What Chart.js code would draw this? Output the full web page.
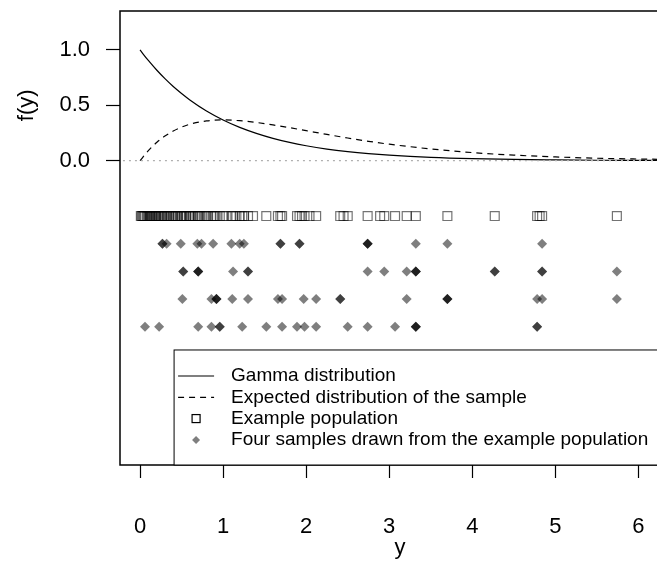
<!DOCTYPE html>
<html>
<head>
<meta charset="utf-8">
<script src="https://cdn.jsdelivr.net/npm/chart.js@4.4.1/dist/chart.umd.min.js"></script>
<style>
html, body { margin: 0; padding: 0; background: #fff; overflow: hidden; }
#wrap { width: 700px; height: 563px; }
</style>
</head>
<body>
<div id="wrap"><canvas id="chart" width="700" height="563"></canvas></div>
<script>
// curves
const curveX    = [0, 0.1, 0.2, 0.3, 0.4, 0.5, 0.6, 0.8, 1.0, 1.2, 1.4, 1.6, 1.8, 2.0, 2.25, 2.5, 2.75, 3.0, 3.5, 4.0, 4.5, 5.0, 5.5, 6.0, 6.5];
const gammaY    = [1.000, 0.905, 0.819, 0.741, 0.670, 0.607, 0.549, 0.449, 0.368, 0.301, 0.247, 0.202, 0.165, 0.135, 0.105, 0.082, 0.064, 0.050, 0.030, 0.018, 0.011, 0.007, 0.004, 0.0025, 0.0015];
const expectedY = [0.000, 0.090, 0.164, 0.222, 0.268, 0.303, 0.329, 0.359, 0.368, 0.361, 0.345, 0.323, 0.298, 0.271, 0.237, 0.205, 0.175, 0.149, 0.106, 0.073, 0.050, 0.034, 0.022, 0.015, 0.010];

// example population (squares) and the four samples (diamonds)
const population = [0.01, 0.02, 0.03, 0.04, 0.05, 0.06, 0.08, 0.09, 0.10, 0.11, 0.12, 0.13, 0.14, 0.15, 0.17,
  0.18, 0.19, 0.20, 0.22, 0.23, 0.25, 0.26, 0.27, 0.29, 0.30, 0.32, 0.33, 0.35, 0.37, 0.38, 0.40, 0.42, 0.43,
  0.45, 0.46, 0.49, 0.50, 0.51, 0.53, 0.55, 0.56, 0.59, 0.60, 0.62, 0.64, 0.66, 0.69, 0.70, 0.72, 0.74, 0.78,
  0.80, 0.82, 0.86, 0.88, 0.90, 0.92, 0.96, 1.00, 1.04, 1.10, 1.12, 1.16, 1.20, 1.23, 1.25, 1.30, 1.36, 1.52,
  1.66, 1.69, 1.71, 1.89, 1.92, 1.95, 1.98, 2.04, 2.12, 2.41, 2.45, 2.50, 2.74, 2.89, 2.94, 3.07, 3.21, 3.32,
  3.70, 4.27, 4.78, 4.81, 4.84, 5.74];
const sample1 = [0.27, 0.27, 0.32, 0.49, 0.69, 0.74, 0.88, 1.10, 1.20, 1.25, 1.69, 1.69, 1.92, 1.92, 2.74, 2.74, 2.74, 3.32, 3.70, 4.84];
const sample2 = [0.52, 0.52, 0.70, 0.70, 0.70, 1.12, 1.30, 1.30, 2.74, 2.94, 3.21, 3.32, 3.32, 3.32, 4.27, 4.27, 4.84, 4.84, 5.74];
const sample3 = [0.51, 0.86, 0.92, 0.92, 0.92, 1.11, 1.30, 1.66, 1.71, 1.97, 2.12, 2.41, 2.41, 3.21, 3.70, 3.70, 3.70, 4.78, 4.84, 5.74];
const sample4 = [0.06, 0.23, 0.70, 0.86, 0.96, 0.96, 1.23, 1.52, 1.71, 1.89, 1.98, 2.12, 2.50, 2.74, 3.07, 3.32, 3.32, 3.32, 4.78, 4.78];

const popLevel = -0.5;
const sampleLevels = [-0.75, -1.0, -1.25, -1.5];
const xTicks = [0, 1, 2, 3, 4, 5, 6];
const yTicks = [0, 0.5, 1];
const legendLabels = ['Gamma distribution', 'Expected distribution of the sample',
  'Example population', 'Four samples drawn from the example population'];

const FONT = '"Liberation Sans", Arial, sans-serif';
const diamondFill = 'rgba(0,0,0,0.5)';

function pts(xs, ys) { return xs.map((x, i) => ({ x: x, y: ys[i] })); }
function row(xs, level) { return xs.map(x => ({ x: x, y: level })); }

const sampleSets = [sample1, sample2, sample3, sample4].map((s, i) => ({
  type: 'scatter',
  data: row(s, sampleLevels[i]),
  pointStyle: 'rectRot',
  pointRadius: 5,
  pointBorderWidth: 0,
  pointBackgroundColor: diamondFill,
  pointBorderColor: 'rgba(0,0,0,0)',
  showLine: false
}));

// box round the plot, inset legend, rotated y title
const extras = {
  id: 'extras',
  afterDraw(chart) {
    const ctx = chart.ctx, a = chart.chartArea;
    const xs = chart.scales.x, ys = chart.scales.y;
    ctx.save();
    ctx.strokeStyle = '#000';
    ctx.lineWidth = 1.5;
    ctx.strokeRect(a.left, a.top, a.right - a.left, a.bottom - a.top);

    // legend
    const lx = xs.getPixelForValue(0.41), ly = ys.getPixelForValue(-1.71);
    ctx.fillStyle = '#fff';
    ctx.fillRect(lx, ly, a.right + 20 - lx, a.bottom - ly);
    ctx.lineWidth = 1;
    ctx.strokeRect(lx, ly, a.right + 20 - lx, a.bottom - ly);
    ctx.font = '19px ' + FONT;
    ctx.textBaseline = 'middle';
    ctx.textAlign = 'left';
    const rowH = 21.3, first = ly + 26;
    legendLabels.forEach((t, i) => {
      const y = first + i * rowH;
      ctx.fillStyle = '#000';
      ctx.fillText(t, lx + 57, y);
      ctx.strokeStyle = '#000';
      ctx.lineWidth = 1.2;
      if (i === 0 || i === 1) {
        ctx.setLineDash(i === 1 ? [6, 5] : []);
        ctx.beginPath();
        ctx.moveTo(lx + 4, y);
        ctx.lineTo(lx + 40, y);
        ctx.stroke();
        ctx.setLineDash([]);
      } else if (i === 2) {
        ctx.strokeRect(lx + 18, y - 4, 8, 8);
      } else {
        ctx.fillStyle = diamondFill;
        ctx.beginPath();
        ctx.moveTo(lx + 22, y - 4);
        ctx.lineTo(lx + 26, y);
        ctx.lineTo(lx + 22, y + 4);
        ctx.lineTo(lx + 18, y);
        ctx.closePath();
        ctx.fill();
      }
    });

    // y title
    ctx.fillStyle = '#000';
    ctx.font = '22px ' + FONT;
    ctx.textAlign = 'center';
    ctx.textBaseline = 'middle';
    ctx.translate(27, ys.getPixelForValue(0.5));
    ctx.rotate(-Math.PI / 2);
    ctx.fillText('f(y)', 0, 0);
    ctx.restore();
  }
};

new Chart(document.getElementById('chart'), {
  type: 'line',
  data: {
    datasets: [
      {
        data: [{ x: -1, y: 0 }, { x: 7, y: 0 }],
        borderColor: '#b0b0b0',
        borderWidth: 1.3,
        borderDash: [2, 4],
        pointRadius: 0
      },
      {
        data: pts(curveX, gammaY),
        borderColor: '#000',
        borderWidth: 1.2,
        pointRadius: 0,
        cubicInterpolationMode: 'monotone'
      },
      {
        data: pts(curveX, expectedY),
        borderColor: '#000',
        borderWidth: 1.2,
        borderDash: [6, 5],
        pointRadius: 0,
        cubicInterpolationMode: 'monotone'
      },
      {
        type: 'scatter',
        data: row(population, popLevel),
        pointStyle: 'rect',
        pointRadius: 6.3,
        pointBorderWidth: 1.2,
        pointBackgroundColor: 'rgba(0,0,0,0)',
        pointBorderColor: 'rgba(0,0,0,0.55)',
        showLine: false
      }
    ].concat(sampleSets)
  },
  options: {
    responsive: false,
    animation: false,
    devicePixelRatio: 1,
    layout: { padding: { left: 0, top: 11, right: 20, bottom: 0 } },
    plugins: { legend: { display: false }, tooltip: { enabled: false } },
    scales: {
      x: {
        type: 'linear',
        min: -0.241,
        max: 6.5,
        afterBuildTicks: s => { s.ticks = xTicks.map(v => ({ value: v })); },
        afterFit: s => { s.height = 98; s.paddingLeft = 0; s.paddingRight = 0; },
        border: { display: false },
        grid: { drawOnChartArea: false, drawTicks: true, tickLength: 13, tickColor: '#000', tickWidth: 1.2 },
        ticks: { color: '#000', padding: 36, maxRotation: 0, font: { family: FONT, size: 22 } },
        title: { display: true, text: 'y', color: '#000', padding: { top: 0, bottom: 2 }, font: { family: FONT, size: 22 } }
      },
      y: {
        type: 'linear',
        min: -2.749,
        max: 1.352,
        afterBuildTicks: s => { s.ticks = yTicks.map(v => ({ value: v })); },
        afterFit: s => { s.width = 120; s.paddingTop = 0; s.paddingBottom = 0; },
        border: { display: false },
        grid: { drawOnChartArea: false, drawTicks: true, tickLength: 14, tickColor: '#000', tickWidth: 1.2 },
        ticks: { color: '#000', padding: 16, callback: v => v.toFixed(1), font: { family: FONT, size: 22 } }
      }
    }
  },
  plugins: [extras]
});
</script>
</body>
</html>
